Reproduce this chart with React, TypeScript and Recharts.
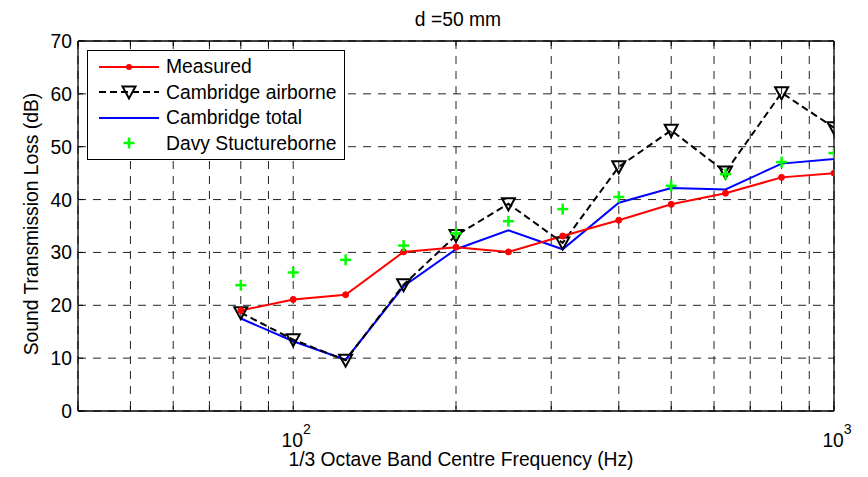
import React from 'react';
import { LineChart, Line, XAxis, YAxis, CartesianGrid, Legend } from 'recharts';

// 1/3 octave band centre frequencies (Hz)
const freqs = [80, 100, 125, 160, 200, 250, 315, 400, 500, 630, 800, 1000];

// sound transmission loss (dB)
const measured = [19, 21.1, 22, 30.1, 31, 30.1, 33.1, 36.1, 39.1, 41.2, 44.2, 45];
const cambridgeAirborne = [18.6, 13.5, 9.6, 23.9, 33.2, 39.2, 31.8, 46.2, 53.1, 45.2, 60.2, 53.6];
const cambridgeTotal = [17.5, 13.2, 9.7, 23.6, 30.6, 34.2, 30.6, 39.4, 42.2, 41.9, 46.8, 47.7];
const davyStructureborne = [23.8, 26.2, 28.6, 31.3, 33.6, 35.9, 38.2, 40.5, 42.6, 44.8, 47.1, 48.8];

const xTicks = [40, 50, 60, 70, 80, 90, 100, 200, 300, 400, 500, 600, 700, 800, 900, 1000];
const xTickLabels: Record<number, string> = { 100: '2', 1000: '3' };
const yTicks = [0, 10, 20, 30, 40, 50, 60, 70];

const legendItems = [
  { name: 'Measured', kind: 'measured' },
  { name: 'Cambridge airborne', kind: 'airborne' },
  { name: 'Cambridge total', kind: 'total' },
  { name: 'Davy Stuctureborne', kind: 'davy' },
];

const data = freqs.map((f, i) => ({
  f,
  measured: measured[i],
  airborne: cambridgeAirborne[i],
  total: cambridgeTotal[i],
  davy: davyStructureborne[i],
}));

const FONT = '"Liberation Sans", Arial, Helvetica, sans-serif';
const FS = 19.3;

const RedDot = (props: any) => {
  const { cx, cy } = props;
  return <circle cx={cx} cy={cy} r={3} fill="#FF0000" stroke="#FF0000" />;
};

const TriangleDown = (props: any) => {
  const { cx, cy } = props;
  const w = 6.5;
  return (
    <path
      d={`M${cx - w},${cy - 5.5} L${cx + w},${cy - 5.5} L${cx},${cy + 6.5} Z`}
      fill="none"
      stroke="#000"
      strokeWidth={2}
    />
  );
};

const GreenPlus = (props: any) => {
  const { cx, cy } = props;
  const s = 5.5;
  return (
    <g stroke="#00FF00" strokeWidth={2.5}>
      <line x1={cx - s} y1={cy} x2={cx + s} y2={cy} />
      <line x1={cx} y1={cy - s} x2={cx} y2={cy + s} />
    </g>
  );
};

const BottomTick = (props: any) => {
  const { x, y, payload } = props;
  const exp = xTickLabels[payload.value];
  return (
    <g>
      <line x1={x} y1={y} x2={x} y2={y - 5} stroke="#000" />
      {exp && (
        <text x={x + 3} y={y + 36} textAnchor="middle" fontFamily={FONT} fontSize={FS} fill="#000">
          10
          <tspan dy={-13} fontSize={14}>{exp}</tspan>
        </text>
      )}
    </g>
  );
};

const TopTick = (props: any) => {
  const { x, y } = props;
  return <line x1={x} y1={y} x2={x} y2={y + 5} stroke="#000" />;
};

const LeftTick = (props: any) => {
  const { x, y, payload } = props;
  return (
    <g>
      <line x1={x} y1={y} x2={x + 5} y2={y} stroke="#000" />
      <text x={x - 6} y={y} dy="0.36em" textAnchor="end" fontFamily={FONT} fontSize={FS} fill="#000">
        {payload.value}
      </text>
    </g>
  );
};

const RightTick = (props: any) => {
  const { x, y } = props;
  return <line x1={x} y1={y} x2={x - 5} y2={y} stroke="#000" />;
};

const LegendSample = ({ kind }: { kind: string }) => (
  <svg width={60} height={20} style={{ display: 'block' }}>
    {kind === 'measured' && (
      <g>
        <line x1={0} y1={10} x2={60} y2={10} stroke="#FF0000" strokeWidth={2} />
        <circle cx={30} cy={10} r={3} fill="#FF0000" />
      </g>
    )}
    {kind === 'airborne' && (
      <g>
        <line x1={0} y1={10} x2={60} y2={10} stroke="#000" strokeWidth={2} strokeDasharray="7 4" />
        <TriangleDown cx={30} cy={10} />
      </g>
    )}
    {kind === 'total' && <line x1={0} y1={10} x2={60} y2={10} stroke="#0000FF" strokeWidth={2} />}
    {kind === 'davy' && <GreenPlus cx={30} cy={10} />}
  </svg>
);

const renderLegend = () => (
  <div
    style={{
      background: '#fff',
      border: '1.5px solid #000',
      padding: '3px 0',
      width: 256,
      boxSizing: 'content-box',
      fontFamily: FONT,
      fontSize: FS,
      color: '#000',
    }}
  >
    {legendItems.map((item) => (
      <div key={item.kind} style={{ display: 'flex', alignItems: 'center', height: 25.5 }}>
        <div style={{ marginLeft: 11, marginRight: 7 }}>
          <LegendSample kind={item.kind} />
        </div>
        <span style={{ whiteSpace: 'nowrap', lineHeight: 1 }}>{item.name}</span>
      </div>
    ))}
  </div>
);

export default function App() {
  return (
    <div style={{ position: 'absolute', left: 0, top: 0, width: 868, height: 477, background: '#fff' }}>
      <LineChart width={868} height={477} data={data} margin={{ top: 0, right: 0, bottom: 0, left: 0 }}>
        <CartesianGrid stroke="#222" strokeDasharray="8 7" />
        <XAxis
          dataKey="f"
          type="number"
          scale="log"
          domain={[40, 1000]}
          allowDataOverflow
          ticks={xTicks}
          interval={0}
          height={66}
          tickSize={0}
          tickMargin={0}
          tickLine={false}
          axisLine={{ stroke: '#000', strokeWidth: 1.3 }}
          tick={<BottomTick />}
        />
        <XAxis
          xAxisId="top"
          orientation="top"
          dataKey="f"
          type="number"
          scale="log"
          domain={[40, 1000]}
          allowDataOverflow
          ticks={xTicks}
          interval={0}
          height={41}
          tickSize={0}
          tickMargin={0}
          tickLine={false}
          axisLine={{ stroke: '#000', strokeWidth: 1.3 }}
          tick={<TopTick />}
        />
        <YAxis
          type="number"
          domain={[0, 70]}
          ticks={yTicks}
          interval={0}
          width={78}
          tickSize={0}
          tickMargin={0}
          tickLine={false}
          axisLine={{ stroke: '#000', strokeWidth: 1.3 }}
          tick={<LeftTick />}
        />
        <YAxis
          yAxisId="right"
          orientation="right"
          type="number"
          domain={[0, 70]}
          ticks={yTicks}
          interval={0}
          width={34}
          tickSize={0}
          tickMargin={0}
          tickLine={false}
          axisLine={{ stroke: '#000', strokeWidth: 1.3 }}
          tick={<RightTick />}
        />
        <Legend
          layout="vertical"
          align="center"
          verticalAlign="middle"
          content={renderLegend}
          wrapperStyle={{ left: 87, top: 50, width: 'auto', height: 'auto' }}
        />
        <Line dataKey="total" stroke="#0000FF" strokeWidth={2} dot={false} isAnimationActive={false} />
        <Line
          dataKey="airborne"
          stroke="#000"
          strokeWidth={2}
          strokeDasharray="7 4"
          dot={<TriangleDown />}
          isAnimationActive={false}
        />
        <Line dataKey="measured" stroke="#FF0000" strokeWidth={2} dot={<RedDot />} isAnimationActive={false} />
        <Line dataKey="davy" stroke="none" dot={<GreenPlus />} isAnimationActive={false} />
      </LineChart>
      <div
        style={{
          position: 'absolute',
          left: 458,
          top: 9,
          transform: 'translateX(-50%)',
          fontFamily: FONT,
          fontSize: FS,
          whiteSpace: 'nowrap',
        }}
      >
        d =50 mm
      </div>
      <div
        style={{
          position: 'absolute',
          left: 461,
          top: 449,
          transform: 'translateX(-50%)',
          fontFamily: FONT,
          fontSize: FS,
          whiteSpace: 'nowrap',
        }}
      >
        1/3 Octave Band Centre Frequency (Hz)
      </div>
      <div
        style={{
          position: 'absolute',
          left: 32,
          top: 224,
          transform: 'translate(-50%, -50%) rotate(-90deg)',
          fontFamily: FONT,
          fontSize: FS,
          whiteSpace: 'nowrap',
        }}
      >
        Sound Transmission Loss (dB)
      </div>
    </div>
  );
}
